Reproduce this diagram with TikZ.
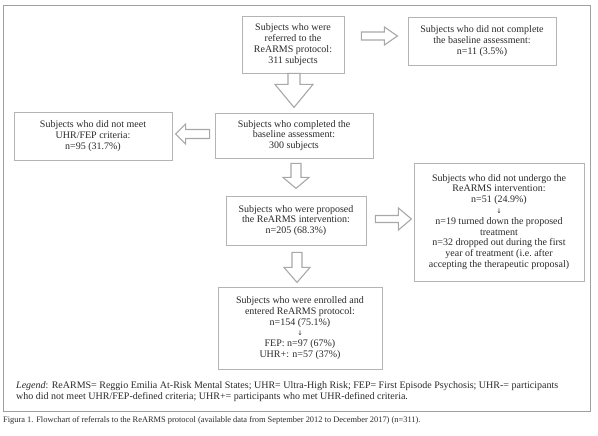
\documentclass[tikz,border=0pt]{standalone}
\usepackage{fontspec}
\setmainfont{Liberation Serif}
\newfontfamily\symfont{DejaVu Sans}
\usetikzlibrary{calc}
\definecolor{txt}{HTML}{2A2A2A}
\definecolor{boxline}{HTML}{B4B4B4}
\definecolor{arrline}{HTML}{A8A8A8}
\definecolor{frameline}{HTML}{A0A0A0}
\tikzset{
  box/.style={draw=boxline, line width=0.8pt, text=txt, align=center, inner sep=1pt,
    font=\fontsize{10}{10.8}\selectfont},
  blk/.style={draw=arrline, line width=1.1pt, fill=white, line join=miter},
}
% #1 start, #2 signed length, #3 signed head length, #4 shaft half width, #5 head half width
\newcommand\blkh[5]{%
  \draw[blk] ($#1+(0,-#4)$) -- ($#1+(#2-#3,-#4)$) -- ($#1+(#2-#3,-#5)$) -- ($#1+(#2,0)$)
    -- ($#1+(#2-#3,#5)$) -- ($#1+(#2-#3,#4)$) -- ($#1+(0,#4)$) -- cycle;}
\newcommand\blkv[5]{%
  \draw[blk] ($#1+(-#4,0)$) -- ($#1+(-#4,#2-#3)$) -- ($#1+(-#5,#2-#3)$) -- ($#1+(0,#2)$)
    -- ($#1+(#5,#2-#3)$) -- ($#1+(#4,#2-#3)$) -- ($#1+(#4,0)$) -- cycle;}
\newcommand\smalldown{{\symfont\fontsize{6.5}{8}\selectfont ↓}}
\begin{document}
\begin{tikzpicture}[x=1pt,y=-1pt]
\useasboundingbox[fill=white] (0,0) rectangle (598,436);
\draw[frameline, line width=0.9pt] (3,5) rectangle (590,411);

\node[box, minimum width=102pt, minimum height=57pt] (b1) at (293,44.5)
  {Subjects who were\\referred to the\\ReARMS protocol:\\311 subjects};
\node[box, minimum width=148pt, minimum height=48pt] (b2) at (482,41)
  {Subjects who did not complete\\the baseline assessment:\\n=11 (3.5\%)};
\node[box, minimum width=158pt, minimum height=45pt] (b4) at (294,135.5)
  {Subjects who completed the\\baseline assessment:\\300 subjects};
\node[box, minimum width=158pt, minimum height=48pt] (b5) at (93,136)
  {Subjects who did not meet\\UHR/FEP criteria:\\n=95 (31.7\%)};
\node[box, minimum width=140pt, minimum height=49pt] (b7) at (296,220.5)
  {Subjects who were proposed\\the ReARMS intervention:\\n=205 (68.3\%)};
\node[box, minimum width=170pt, minimum height=118pt] (b8) at (499,222)
  {Subjects who did not undergo the\\ReARMS intervention:\\n=51 (24.9\%)\\[0pt]
   \smalldown\\[0pt]
   n=19 turned down the proposed\\treatment\\n=32 dropped out during the first\\
   year of treatment (i.e.\ after\\accepting the therapeutic proposal)};
\node[box, minimum width=164pt, minimum height=82pt] (b10) at (300,328)
  {Subjects who were enrolled and\\entered ReARMS protocol:\\n=154 (75.1\%)\\[0pt]
   \smalldown\\[0pt]
   FEP: n=97 (67\%)\\UHR+: n=57 (37\%)};

% hollow block arrows
\blkv{(b1.south)+(1,0)}{34}{23}{6}{19}
\blkh{(b1.east)+(17,-8.5)}{36}{13}{4}{9}
\blkh{(b4.west)+(-5,-1.5)}{-34}{-10}{4.5}{10}
\blkv{(b4.south)+(2,5)}{25}{11}{5}{13}
\blkh{(b7.east)+(9,-1.5)}{36}{13}{3.5}{11}
\blkv{(b7.south)+(1,7)}{30}{15}{5}{13}

\node[anchor=north west, inner sep=0pt, text=txt, align=left,
  font=\fontsize{10}{11.2}\selectfont] (legend) at (16,381)
  {\textit{Legend}: ReARMS= Reggio Emilia At-Risk Mental States; UHR= Ultra-High Risk; FEP= First Episode Psychosis; UHR-= participants\\
   who did not meet UHR/FEP-defined criteria; UHR+= participants who met UHR-defined criteria.};
\node[anchor=north west, inner sep=0pt, text=txt,
  font=\fontsize{8.4}{10}\selectfont] (caption) at (3,416.5)
  {Figura 1. Flowchart of referrals to the ReARMS protocol (available data from September 2012 to December 2017) (n=311).};
\end{tikzpicture}
\end{document}
